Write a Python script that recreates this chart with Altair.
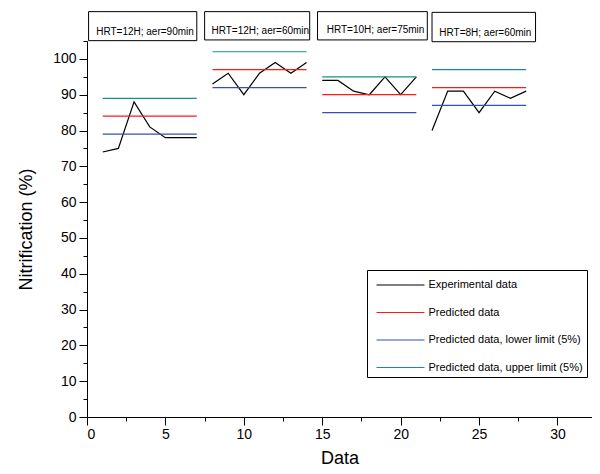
import altair as alt
import pandas as pd

# ---- data ----
seg_x = [
    [1, 2, 3, 4, 5, 6, 7],
    [8, 9, 10, 11, 12, 13, 14],
    [15, 16, 17, 18, 19, 20, 21],
    [22, 23, 24, 25, 26, 27, 28],
]
experimental = [
    [74, 75, 88, 81, 78, 78, 78],
    [93, 96, 90, 96, 99, 96, 99],
    [94, 94, 91, 90, 95, 90, 95],
    [80, 91, 91, 85, 91, 89, 91],
]
predicted = [84, 97, 90, 92]
lower = [79, 92, 85, 87]
upper = [89, 102, 95, 97]

series_names = [
    "Experimental data",
    "Predicted data",
    "Predicted data, lower limit (5%)",
    "Predicted data, upper limit (5%)",
]
series_colors = ["#000000", "#ff1a1a", "#3350b0", "#168f8f"]

box_labels = ["HRT=12H; aer=90min", "HRT=12H; aer=60min", "HRT=10H; aer=75min", "HRT=8H; aer=60min"]
box_x1 = [0.1, 7.5, 14.7, 22.0]
box_x2 = [7.0, 14.2, 21.7, 28.6]
box_y1 = [105.1, 105.3, 105.3, 104.8]
box_y2 = [113.2, 113.2, 113.2, 113.0]
label_x = [3.7, 11.05, 18.4, 25.4]
label_y = [106.7, 107.0, 107.2, 106.4]

x_ticks = [0, 2.5, 5, 7.5, 10, 12.5, 15, 17.5, 20, 22.5, 25, 27.5, 30]
y_ticks = [0, 5, 10, 15, 20, 25, 30, 35, 40, 45, 50, 55, 60, 65, 70, 75, 80, 85, 90, 95, 100, 105]

FONT = "Liberation Sans"

# ---- build tables ----
rows = []
for s in range(len(seg_x)):
    xs = seg_x[s]
    for xv, yv in zip(xs, experimental[s]):
        rows.append({"x": xv, "y": yv, "series": series_names[0], "key": f"e{s}"})
    for name, vals, k in [(series_names[1], predicted, "p"), (series_names[2], lower, "l"), (series_names[3], upper, "u")]:
        rows.append({"x": xs[0], "y": vals[s], "series": name, "key": f"{k}{s}"})
        rows.append({"x": xs[-1], "y": vals[s], "series": name, "key": f"{k}{s}"})
lines_df = pd.DataFrame(rows)

boxes_df = pd.DataFrame({
    "label": box_labels, "x1": box_x1, "x2": box_x2, "y1": box_y1, "y2": box_y2,
    "lx": label_x, "ly": label_y,
})

x_scale = alt.Scale(domain=[0, 32.2], nice=False, zero=False)
y_scale = alt.Scale(domain=[0, 105], nice=False, zero=False)

x_axis = alt.Axis(
    title="Data", values=x_ticks,
    labelExpr="datum.value % 5 === 0 ? datum.label : ''",
    tickSize={"condition": {"test": "datum.value % 5 === 0", "value": 8}, "value": 4},
    labelPadding=2, titlePadding=8, labelOverlap=False, grid=False,
)
y_axis = alt.Axis(
    title="Nitrification (%)", values=y_ticks,
    labelExpr="datum.value % 10 === 0 ? datum.label : ''",
    tickSize={"condition": {"test": "datum.value % 10 === 0", "value": 8}, "value": 4},
    labelPadding=3, titlePadding=17, labelOverlap=False, grid=False,
)

lines = alt.Chart(lines_df).mark_line(strokeWidth=1.2).encode(
    x=alt.X("x:Q", scale=x_scale, axis=x_axis),
    y=alt.Y("y:Q", scale=y_scale, axis=y_axis),
    color=alt.Color(
        "series:N",
        scale=alt.Scale(domain=series_names, range=series_colors),
        legend=alt.Legend(
            title=None, orient="none", legendX=280, legendY=229,
            strokeColor="black", fillColor="white", padding=4,
            symbolType="M-2.4,0H2.4", symbolSize=400, symbolStrokeWidth=1.2,
            symbolOffset=18.5, labelOffset=17, rowPadding=11.5,
            labelFont=FONT, labelFontSize=11, labelColor="black", labelLimit=300,
        ),
    ),
    detail="key:N",
    order="x:Q",
)

rects = alt.Chart(boxes_df).mark_rect(fill="white", stroke="black", strokeWidth=1).encode(
    x=alt.X("x1:Q", scale=x_scale, axis=x_axis), x2="x2:Q",
    y=alt.Y("y1:Q", scale=y_scale, axis=y_axis), y2="y2:Q",
)

texts = alt.Chart(boxes_df).mark_text(
    font=FONT, fontSize=10, color="black", align="center", baseline="alphabetic"
).encode(
    x=alt.X("lx:Q", scale=x_scale, axis=x_axis),
    y=alt.Y("ly:Q", scale=y_scale, axis=y_axis),
    text="label:N",
)

chart = alt.layer(rects, texts, lines).properties(
    width=505, height=376,
    autosize=alt.AutoSizeParams(type="none"),
    padding={"left": 79, "top": 33, "right": 0, "bottom": 49},
).configure_view(stroke=None).configure_axis(
    domainColor="black", tickColor="black", labelColor="black", titleColor="black",
    labelFont=FONT, titleFont=FONT, labelFontSize=14, titleFontSize=18,
    titleFontWeight="normal", domainWidth=1, tickWidth=1,
)

chart.save("out.html", embed_options={"renderer": "svg", "actions": False})
